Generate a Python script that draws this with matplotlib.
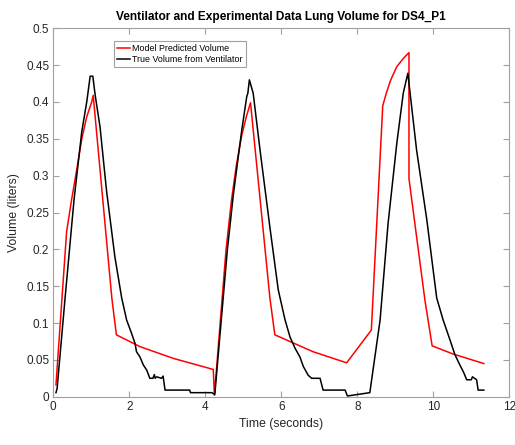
import matplotlib
matplotlib.use("Agg")
import matplotlib.pyplot as plt

plt.rcParams['font.family'] = ['Liberation Sans', 'DejaVu Sans']

# Model predicted volume (red)
model_t = [0.07, 0.35, 0.48, 0.59, 0.75, 0.88, 1.01, 1.05,
           1.54, 1.66, 2.28, 3.16, 4.21, 4.24,
           4.545, 4.69, 4.82, 4.96, 5.08, 5.19,
           5.70, 5.83, 6.84, 7.72, 8.37, 8.67,
           8.77, 8.88, 9.04, 9.21, 9.36, 9.36,
           9.78, 9.97, 10.52, 11.33]
model_v = [0.016, 0.224, 0.267, 0.300, 0.350, 0.380, 0.400, 0.409,
           0.134, 0.084, 0.068, 0.052, 0.037, 0.002,
           0.199, 0.267, 0.315, 0.355, 0.380, 0.399,
           0.134, 0.084, 0.061, 0.046, 0.0905, 0.395,
           0.413, 0.430, 0.448, 0.459, 0.467, 0.296,
           0.131, 0.069, 0.058, 0.045]

# True volume from ventilator (black)
true_t = [0.07, 0.10, 0.31, 0.545, 0.75, 0.88, 0.97, 1.04,
          1.10, 1.23, 1.40, 1.62, 1.80, 1.93, 2.06, 2.15, 2.19, 2.28, 2.37,
          2.46, 2.54, 2.62, 2.66, 2.68, 2.72, 2.85, 2.89, 2.94, 3.59, 3.61,
          4.17, 4.25, 4.58, 4.74, 4.96, 5.09, 5.12, 5.16, 5.26, 5.44,
          5.70, 5.92, 6.10, 6.23, 6.36, 6.49, 6.58, 6.71, 6.80, 7.02, 7.10,
          7.68, 7.74, 8.33, 8.60, 8.81, 9.04, 9.21, 9.33, 9.56, 9.83, 10.09,
          10.26, 10.44, 10.57, 10.70, 10.79, 10.88, 11.00, 11.03, 11.14,
          11.18, 11.33]
true_v = [0.0055, 0.011, 0.134, 0.267, 0.360, 0.400, 0.435, 0.435,
          0.410, 0.366, 0.280, 0.190, 0.134, 0.104, 0.086, 0.0725, 0.061, 0.054, 0.043,
          0.036, 0.025, 0.025, 0.030, 0.025, 0.027, 0.025, 0.028, 0.009, 0.009, 0.0055,
          0.0055, 0.003, 0.199, 0.275, 0.362, 0.407, 0.412, 0.430, 0.412, 0.335,
          0.230, 0.145, 0.104, 0.081, 0.066, 0.054, 0.041, 0.029, 0.025, 0.025, 0.009,
          0.009, 0.001, 0.0055, 0.104, 0.235, 0.344, 0.412, 0.439, 0.335, 0.240, 0.134,
          0.104, 0.077, 0.057, 0.043, 0.034, 0.023, 0.023, 0.027, 0.023,
          0.009, 0.009]

x_ticks = [0, 2, 4, 6, 8, 10, 12]
y_ticks = [0, 0.05, 0.1, 0.15, 0.2, 0.25, 0.3, 0.35, 0.4, 0.45, 0.5]
y_labels = ['0', '0.05', '0.1', '0.15', '0.2', '0.25', '0.3', '0.35', '0.4', '0.45', '0.5']

fig = plt.figure(figsize=(5.15, 4.45), dpi=100)
ax = fig.add_axes([0.1035, 0.1085, 0.8854, 0.8279])

ax.plot(model_t, model_v, color='#ff0000', lw=1.1, label='Model Predicted Volume')
ax.plot(true_t, true_v, color='black', lw=1.1, label='True Volume from Ventilator')

ax.set_xlim(0, 12)
ax.set_ylim(0, 0.5)
ax.set_xticks(x_ticks)
ax.set_yticks(y_ticks)
ax.set_yticklabels(y_labels)

grey = '#a0a0a0'
for s in ax.spines.values():
    s.set_color(grey)
    s.set_linewidth(0.8)
ax.tick_params(direction='in', length=4, width=0.8, color=grey,
               top=True, right=True, labelsize=8.5, labelcolor='#262626', pad=3)

ax.set_title('Ventilator and Experimental Data Lung Volume for DS4_P1',
             fontsize=8.6, fontweight='bold', pad=6)
ax.set_xlabel('Time (seconds)', fontsize=8.8, color='#262626', labelpad=4)
ax.set_ylabel('Volume (liters)', fontsize=8.8, color='#262626', labelpad=4)

leg = ax.legend(loc='upper left', bbox_to_anchor=(0.133, 0.965), fontsize=6.4,
                frameon=True, fancybox=False, framealpha=1, edgecolor=grey,
                handlelength=1.5, handletextpad=0.2, borderpad=0.35,
                labelspacing=0.2, borderaxespad=0)
leg.get_frame().set_linewidth(0.8)

fig.savefig('out.png', dpi=100)
